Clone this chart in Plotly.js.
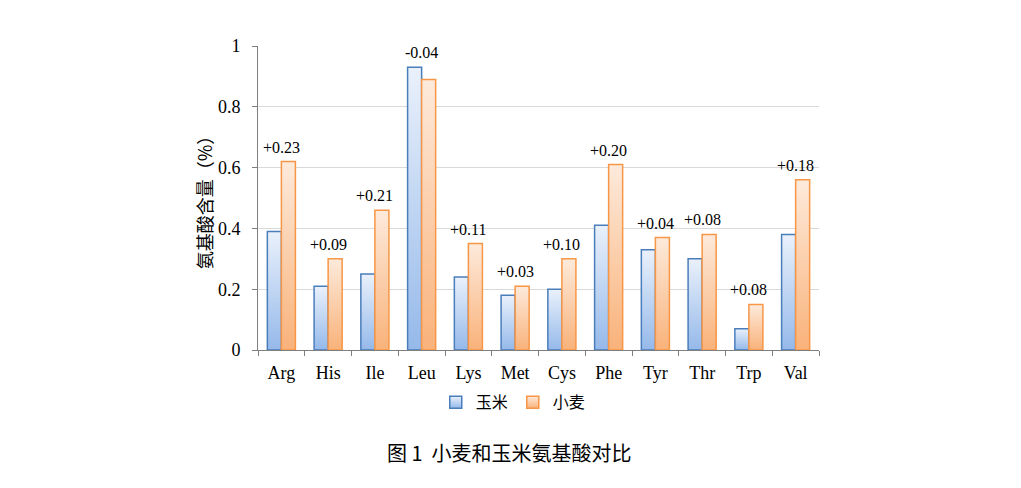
<!DOCTYPE html>
<html>
<head>
<meta charset="utf-8">
<script src="https://cdn.plot.ly/plotly-3.0.1.min.js"></script>
<style>
  html, body { margin: 0; padding: 0; background: #ffffff; }
  #chart { width: 1021px; height: 488px; }
</style>
</head>
<body>
<div id="chart"></div>
<script>
// Amino acids (categories)
const aminoAcids = ['Arg', 'His', 'Ile', 'Leu', 'Lys', 'Met', 'Cys', 'Phe', 'Tyr', 'Thr', 'Trp', 'Val'];
// 玉米 (corn) content, %
const cornValues = [0.39, 0.21, 0.25, 0.93, 0.24, 0.18, 0.20, 0.41, 0.33, 0.30, 0.07, 0.38];
// 小麦 (wheat) content, %
const wheatValues = [0.62, 0.30, 0.46, 0.89, 0.35, 0.21, 0.30, 0.61, 0.37, 0.38, 0.15, 0.56];
// difference labels shown above each pair
const diffLabels = ['+0.23', '+0.09', '+0.21', '-0.04', '+0.11', '+0.03', '+0.10', '+0.20', '+0.04', '+0.08', '+0.08', '+0.18'];

const SERIF = '"Liberation Serif", "Times New Roman", serif';
const CJK = '"Noto Sans CJK SC", sans-serif';

const corn = {
    x: aminoAcids,
    y: cornValues,
    name: '玉米',
    type: 'bar',
    marker: { color: '#c9dcf5', line: { color: '#4a7ebb', width: 1.5 } },
    hoverinfo: 'skip',
};

const wheat = {
    x: aminoAcids,
    y: wheatValues,
    name: '小麦',
    type: 'bar',
    marker: { color: '#fcd3ae', line: { color: '#f79646', width: 1.5 } },
    hoverinfo: 'skip',
};

// difference labels sit above the taller bar of each pair
const labelNotes = aminoAcids.map((a, i) => ({
    x: a,
    y: Math.max(cornValues[i], wheatValues[i]),
    text: diffLabels[i],
    showarrow: false,
    yanchor: 'bottom',
    yshift: 4,
    font: { family: SERIF, size: 16, color: '#000000' },
}));

const layout = {
    width: 1021,
    height: 488,
    paper_bgcolor: '#ffffff',
    plot_bgcolor: '#ffffff',
    margin: { l: 258, r: 202, t: 46, b: 138 },
    barmode: 'group',
    bargap: 0.4,
    bargroupgap: 0,
    showlegend: true,
    legend: {
        orientation: 'h',
        x: 0.455, xanchor: 'center',
        y: -0.172, yanchor: 'middle',
        font: { family: CJK, size: 16, color: '#000000' },
        itemwidth: 30,
        traceorder: 'normal',
    },
    xaxis: {
        type: 'category',
        showline: true,
        linecolor: '#7f7f7f',
        linewidth: 1,
        ticks: 'outside',
        tickson: 'boundaries',
        ticklen: 5,
        tickcolor: '#7f7f7f',
        ticklabelstandoff: 6,
        tickfont: { family: SERIF, size: 18, color: '#000000' },
        showgrid: false,
    },
    yaxis: {
        range: [0, 1],
        dtick: 0.2,
        showline: true,
        linecolor: '#7f7f7f',
        linewidth: 1,
        ticks: 'outside',
        ticklen: 5,
        tickcolor: '#7f7f7f',
        ticklabelstandoff: 8,
        tickfont: { family: SERIF, size: 18, color: '#000000' },
        gridcolor: '#d9d9d9',
        zeroline: false,
        title: { text: '氨基酸含量（%）', font: { family: CJK, size: 18, color: '#000000' }, standoff: 0 },
    },
    annotations: [
        ...labelNotes,
        {
            text: '图 1  小麦和玉米氨基酸对比',
            xref: 'paper', yref: 'paper',
            x: 0.449, y: -0.336,
            xanchor: 'center', yanchor: 'middle',
            showarrow: false,
            font: { family: CJK, size: 20, color: '#000000' },
        },
    ],
};

Plotly.newPlot('chart', [corn, wheat], layout, { displayModeBar: false, staticPlot: true }).then(gd => {
    // vertical gradient fills like the original spreadsheet chart
    const svg = gd.querySelector('.main-svg');
    const ns = 'http://www.w3.org/2000/svg';
    let defs = svg.querySelector('defs');
    if (!defs) { defs = document.createElementNS(ns, 'defs'); svg.prepend(defs); }
    const grads = [
        { id: 'gradCorn', top: '#eaf1fb', bottom: '#95b9ea' },
        { id: 'gradWheat', top: '#fdeadb', bottom: '#f9b27a' },
    ];
    grads.forEach(g => {
        const lg = document.createElementNS(ns, 'linearGradient');
        lg.setAttribute('id', g.id);
        lg.setAttribute('x1', '0'); lg.setAttribute('y1', '0');
        lg.setAttribute('x2', '0'); lg.setAttribute('y2', '1');
        [[0, g.top], [1, g.bottom]].forEach(([o, c]) => {
            const s = document.createElementNS(ns, 'stop');
            s.setAttribute('offset', o);
            s.setAttribute('stop-color', c);
            lg.appendChild(s);
        });
        defs.appendChild(lg);
    });
    gd.querySelectorAll('.barlayer .trace.bars').forEach((t, i) => {
        t.querySelectorAll('path').forEach(p => { p.style.fill = `url(#${grads[i].id})`; });
    });
    gd.querySelectorAll('.legend .traces').forEach((t, i) => {
        t.querySelectorAll('.legendpoints path').forEach(p => { p.style.fill = `url(#${grads[i].id})`; });
    });
});
</script>
</body>
</html>
